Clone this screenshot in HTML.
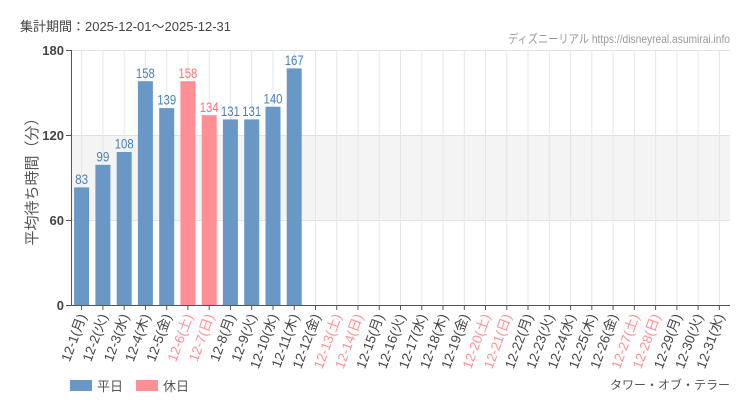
<!DOCTYPE html>
<html><head><meta charset="utf-8"><style>
body{margin:0;background:#fff;}
svg{display:block;font-family:"Liberation Sans","Noto Sans CJK JP",sans-serif;}
.v{font-size:14px;text-anchor:middle;font-family:"Liberation Sans",sans-serif;fill:#4a7fb5}
.vh{fill:#ff7178}
.d{font-size:13.5px;text-anchor:end;fill:#444}
.dh{fill:#ff8f94}
.gl line{stroke:#e6e6e6}
.tk line{stroke:#555}
</style></head><body>
<svg width="750" height="410" viewBox="0 0 750 410" xmlns="http://www.w3.org/2000/svg">
<rect width="750" height="410" fill="#fff"/>
<text x="20" y="31" font-size="13" fill="#444">集計期間：2025-12-01～2025-12-31</text>
<text x="730" y="43" font-size="12" fill="#999" text-anchor="end" textLength="222" lengthAdjust="spacingAndGlyphs">ディズニーリアル https://disneyreal.asumirai.info</text>
<rect x="71" y="135" width="659" height="85" fill="#f4f4f4"/>
<line x1="71" y1="50.5" x2="730" y2="50.5" stroke="#e2e2e2"/>
<line x1="71" y1="135.5" x2="730" y2="135.5" stroke="#e2e2e2"/>
<line x1="71" y1="220.5" x2="730" y2="220.5" stroke="#e2e2e2"/>
<g class="gl">
<line x1="81.6" y1="50" x2="81.6" y2="305"/><line x1="102.9" y1="50" x2="102.9" y2="305"/><line x1="124.2" y1="50" x2="124.2" y2="305"/><line x1="145.4" y1="50" x2="145.4" y2="305"/><line x1="166.7" y1="50" x2="166.7" y2="305"/><line x1="187.9" y1="50" x2="187.9" y2="305"/><line x1="209.2" y1="50" x2="209.2" y2="305"/><line x1="230.4" y1="50" x2="230.4" y2="305"/><line x1="251.7" y1="50" x2="251.7" y2="305"/><line x1="273" y1="50" x2="273" y2="305"/><line x1="294.2" y1="50" x2="294.2" y2="305"/><line x1="315.5" y1="50" x2="315.5" y2="305"/><line x1="336.7" y1="50" x2="336.7" y2="305"/><line x1="358" y1="50" x2="358" y2="305"/><line x1="379.2" y1="50" x2="379.2" y2="305"/><line x1="400.5" y1="50" x2="400.5" y2="305"/><line x1="421.8" y1="50" x2="421.8" y2="305"/><line x1="443" y1="50" x2="443" y2="305"/><line x1="464.3" y1="50" x2="464.3" y2="305"/><line x1="485.5" y1="50" x2="485.5" y2="305"/><line x1="506.8" y1="50" x2="506.8" y2="305"/><line x1="528" y1="50" x2="528" y2="305"/><line x1="549.3" y1="50" x2="549.3" y2="305"/><line x1="570.6" y1="50" x2="570.6" y2="305"/><line x1="591.8" y1="50" x2="591.8" y2="305"/><line x1="613.1" y1="50" x2="613.1" y2="305"/><line x1="634.3" y1="50" x2="634.3" y2="305"/><line x1="655.6" y1="50" x2="655.6" y2="305"/><line x1="676.9" y1="50" x2="676.9" y2="305"/><line x1="698.1" y1="50" x2="698.1" y2="305"/><line x1="719.4" y1="50" x2="719.4" y2="305"/>
</g>
<g fill="#6a98c6">
<rect x="74.1" y="187.4" width="15" height="117.6"/>
<rect x="95.4" y="164.8" width="15" height="140.2"/>
<rect x="116.7" y="152" width="15" height="153"/>
<rect x="137.9" y="81.2" width="15" height="223.8"/>
<rect x="159.2" y="108.1" width="15" height="196.9"/>
<rect x="222.9" y="119.4" width="15" height="185.6"/>
<rect x="244.2" y="119.4" width="15" height="185.6"/>
<rect x="265.5" y="106.7" width="15" height="198.3"/>
<rect x="286.7" y="68.4" width="15" height="236.6"/>
</g>
<g fill="#ff8f94">
<rect x="180.4" y="81.2" width="15" height="223.8"/>
<rect x="201.7" y="115.2" width="15" height="189.8"/>
</g>
<text class="v" x="81.6" y="184" textLength="13" lengthAdjust="spacingAndGlyphs">83</text>
<text class="v" x="102.9" y="161.5" textLength="13" lengthAdjust="spacingAndGlyphs">99</text>
<text class="v" x="124.2" y="148.5" textLength="19" lengthAdjust="spacingAndGlyphs">108</text>
<text class="v" x="145.4" y="77.8" textLength="19" lengthAdjust="spacingAndGlyphs">158</text>
<text class="v" x="166.7" y="104.7" textLength="19" lengthAdjust="spacingAndGlyphs">139</text>
<text class="v vh" x="187.9" y="77.8" textLength="19" lengthAdjust="spacingAndGlyphs">158</text>
<text class="v vh" x="209.2" y="111.8" textLength="19" lengthAdjust="spacingAndGlyphs">134</text>
<text class="v" x="230.4" y="116" textLength="19" lengthAdjust="spacingAndGlyphs">131</text>
<text class="v" x="251.7" y="116" textLength="19" lengthAdjust="spacingAndGlyphs">131</text>
<text class="v" x="273" y="103.3" textLength="19" lengthAdjust="spacingAndGlyphs">140</text>
<text class="v" x="294.2" y="65" textLength="19" lengthAdjust="spacingAndGlyphs">167</text>
<line x1="71.5" y1="50" x2="71.5" y2="305" stroke="#555"/>
<line x1="71" y1="305.5" x2="730" y2="305.5" stroke="#555"/>
<g class="tk">
<line x1="81.6" y1="305" x2="81.6" y2="310"/><line x1="102.9" y1="305" x2="102.9" y2="310"/><line x1="124.2" y1="305" x2="124.2" y2="310"/><line x1="145.4" y1="305" x2="145.4" y2="310"/><line x1="166.7" y1="305" x2="166.7" y2="310"/><line x1="187.9" y1="305" x2="187.9" y2="310"/><line x1="209.2" y1="305" x2="209.2" y2="310"/><line x1="230.4" y1="305" x2="230.4" y2="310"/><line x1="251.7" y1="305" x2="251.7" y2="310"/><line x1="273" y1="305" x2="273" y2="310"/><line x1="294.2" y1="305" x2="294.2" y2="310"/><line x1="315.5" y1="305" x2="315.5" y2="310"/><line x1="336.7" y1="305" x2="336.7" y2="310"/><line x1="358" y1="305" x2="358" y2="310"/><line x1="379.2" y1="305" x2="379.2" y2="310"/><line x1="400.5" y1="305" x2="400.5" y2="310"/><line x1="421.8" y1="305" x2="421.8" y2="310"/><line x1="443" y1="305" x2="443" y2="310"/><line x1="464.3" y1="305" x2="464.3" y2="310"/><line x1="485.5" y1="305" x2="485.5" y2="310"/><line x1="506.8" y1="305" x2="506.8" y2="310"/><line x1="528" y1="305" x2="528" y2="310"/><line x1="549.3" y1="305" x2="549.3" y2="310"/><line x1="570.6" y1="305" x2="570.6" y2="310"/><line x1="591.8" y1="305" x2="591.8" y2="310"/><line x1="613.1" y1="305" x2="613.1" y2="310"/><line x1="634.3" y1="305" x2="634.3" y2="310"/><line x1="655.6" y1="305" x2="655.6" y2="310"/><line x1="676.9" y1="305" x2="676.9" y2="310"/><line x1="698.1" y1="305" x2="698.1" y2="310"/><line x1="719.4" y1="305" x2="719.4" y2="310"/>
</g>
<g font-size="13" fill="#444" text-anchor="end" font-weight="bold">
<text x="64" y="55">180</text><text x="64" y="140">120</text><text x="64" y="225">60</text><text x="64" y="310">0</text>
</g>
<g stroke="#555"><line x1="66" y1="50.5" x2="71" y2="50.5"/><line x1="66" y1="135.5" x2="71" y2="135.5"/><line x1="66" y1="220.5" x2="71" y2="220.5"/><line x1="66" y1="305.5" x2="71" y2="305.5"/></g>
<text transform="translate(37,178) rotate(-90)" font-size="15" fill="#555" text-anchor="middle">平均待ち時間（分）</text>
<text class="d" transform="translate(86.6,316) rotate(-70)">12-1(月)</text>
<text class="d" transform="translate(107.9,316) rotate(-70)">12-2(火)</text>
<text class="d" transform="translate(129.2,316) rotate(-70)">12-3(水)</text>
<text class="d" transform="translate(150.4,316) rotate(-70)">12-4(木)</text>
<text class="d" transform="translate(171.7,316) rotate(-70)">12-5(金)</text>
<text class="d dh" transform="translate(192.9,316) rotate(-70)">12-6(土)</text>
<text class="d dh" transform="translate(214.2,316) rotate(-70)">12-7(日)</text>
<text class="d" transform="translate(235.4,316) rotate(-70)">12-8(月)</text>
<text class="d" transform="translate(256.7,316) rotate(-70)">12-9(火)</text>
<text class="d" transform="translate(278,316) rotate(-70)">12-10(水)</text>
<text class="d" transform="translate(299.2,316) rotate(-70)">12-11(木)</text>
<text class="d" transform="translate(320.5,316) rotate(-70)">12-12(金)</text>
<text class="d dh" transform="translate(341.7,316) rotate(-70)">12-13(土)</text>
<text class="d dh" transform="translate(363,316) rotate(-70)">12-14(日)</text>
<text class="d" transform="translate(384.2,316) rotate(-70)">12-15(月)</text>
<text class="d" transform="translate(405.5,316) rotate(-70)">12-16(火)</text>
<text class="d" transform="translate(426.8,316) rotate(-70)">12-17(水)</text>
<text class="d" transform="translate(448,316) rotate(-70)">12-18(木)</text>
<text class="d" transform="translate(469.3,316) rotate(-70)">12-19(金)</text>
<text class="d dh" transform="translate(490.5,316) rotate(-70)">12-20(土)</text>
<text class="d dh" transform="translate(511.8,316) rotate(-70)">12-21(日)</text>
<text class="d" transform="translate(533,316) rotate(-70)">12-22(月)</text>
<text class="d" transform="translate(554.3,316) rotate(-70)">12-23(火)</text>
<text class="d" transform="translate(575.6,316) rotate(-70)">12-24(水)</text>
<text class="d" transform="translate(596.8,316) rotate(-70)">12-25(木)</text>
<text class="d" transform="translate(618.1,316) rotate(-70)">12-26(金)</text>
<text class="d dh" transform="translate(639.3,316) rotate(-70)">12-27(土)</text>
<text class="d dh" transform="translate(660.6,316) rotate(-70)">12-28(日)</text>
<text class="d" transform="translate(681.9,316) rotate(-70)">12-29(月)</text>
<text class="d" transform="translate(703.1,316) rotate(-70)">12-30(火)</text>
<text class="d" transform="translate(724.4,316) rotate(-70)">12-31(水)</text>
<rect x="70" y="380" width="22" height="11" fill="#6a98c6"/><text x="97" y="391" font-size="13" fill="#555">平日</text>
<rect x="136" y="380" width="22" height="11" fill="#ff8f94"/><text x="163" y="391" font-size="13" fill="#555">休日</text>
<text x="730" y="389" font-size="12" fill="#555" text-anchor="end">タワー・オブ・テラー</text>
</svg>
</body></html>
